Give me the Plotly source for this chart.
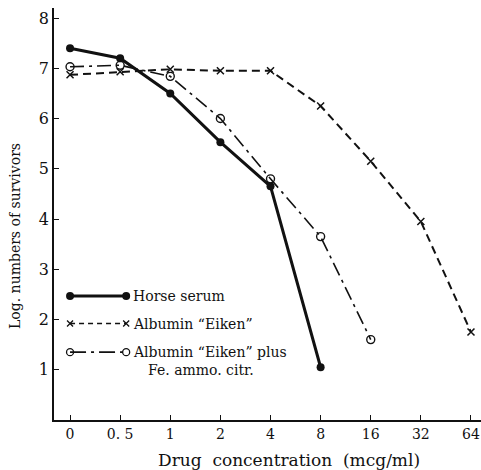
import plotly.graph_objects as go

categories = ["0", "0. 5", "1", "2", "4", "8", "16", "32", "64"]
horse_serum = [7.4, 7.2, 6.5, 5.53, 4.65, 1.05]
albumin = [6.87, 6.93, 6.98, 6.95, 6.95, 6.25, 5.15, 3.95, 1.75]
albumin_fe = [7.03, 7.06, 6.84, 6.0, 4.8, 3.65, 1.6]

names = ["Horse serum", "Albumin “Eiken”", "Albumin “Eiken” plus"]

FONT = "DejaVu Serif"
BLACK = "#111111"

idx = list(range(len(categories)))
fig = go.Figure()

fig.add_trace(go.Scatter(
    x=idx[:len(horse_serum)], y=horse_serum, mode="lines+markers",
    line=dict(color=BLACK, width=3),
    marker=dict(symbol="circle", size=8, color=BLACK),
    showlegend=False, name=names[0]))
fig.add_trace(go.Scatter(
    x=idx[:len(albumin)], y=albumin, mode="lines+markers",
    line=dict(color=BLACK, width=2, dash="8px,5px"),
    marker=dict(symbol="x-thin", size=7, color=BLACK, line=dict(color=BLACK, width=1.5)),
    showlegend=False, name=names[1], cliponaxis=False))
fig.add_trace(go.Scatter(
    x=idx[:len(albumin_fe)], y=albumin_fe, mode="lines+markers",
    line=dict(color=BLACK, width=1.6, dash="14px,5px,3px,5px"),
    marker=dict(symbol="circle-open", size=8, color=BLACK, line=dict(color=BLACK, width=1.4)),
    showlegend=False, name=names[2]))

# hand-drawn legend keys
key_x = [0, 1.12]
key_y = [2.47, 1.92, 1.35]
styles = [
    (dict(color=BLACK, width=3), dict(symbol="circle", size=8, color=BLACK)),
    (dict(color=BLACK, width=1.5, dash="5px,4px"), dict(symbol="x-thin", size=6, color=BLACK, line=dict(color=BLACK, width=1.3))),
    (dict(color=BLACK, width=1.6, dash="16px,5px,3px,5px"), dict(symbol="circle-open", size=7, color=BLACK, line=dict(color=BLACK, width=1.3))),
]
for yk, (ln, mk) in zip(key_y, styles):
    fig.add_trace(go.Scatter(x=key_x, y=[yk, yk], mode="lines+markers", line=ln, marker=mk,
                             showlegend=False, hoverinfo="skip"))

annos = []
for yk, nm in zip(key_y, names):
    annos.append(dict(x=1.22, y=yk, xref="x", yref="y", text=nm, showarrow=False,
                      xanchor="left", yanchor="middle", font=dict(family=FONT, size=14, color=BLACK)))
annos.append(dict(x=1.52, y=1.0, xref="x", yref="y", text="Fe. ammo. citr.", showarrow=False,
                  xanchor="left", yanchor="middle", font=dict(family=FONT, size=14, color=BLACK)))
annos.append(dict(x=-0.091, y=0.447, xref="paper", yref="paper", text="Log. numbers of survivors",
                  textangle=-90, showarrow=False, xanchor="center", yanchor="middle",
                  font=dict(family=FONT, size=14, color=BLACK)))
annos.append(dict(x=0.55, y=-0.097, xref="paper", yref="paper", text="Drug  concentration  (mcg/ml)",
                  showarrow=False, xanchor="center", yanchor="middle",
                  font=dict(family=FONT, size=17, color=BLACK)))

fig.update_layout(
    width=481, height=470,
    margin=dict(l=54, r=0, t=8, b=50),
    paper_bgcolor="white", plot_bgcolor="white",
    font=dict(family=FONT, size=14, color=BLACK),
    annotations=annos,
    xaxis=dict(range=[-0.32, 8.2], tickmode="array", tickvals=idx, ticktext=categories,
               showgrid=False, zeroline=False, showline=True, linecolor=BLACK, linewidth=1.5,
               ticks="inside", ticklen=5, tickcolor=BLACK, tickfont=dict(family=FONT, size=14)),
    yaxis=dict(range=[0, 8.2], tickvals=[1, 2, 3, 4, 5, 6, 7, 8],
               showgrid=False, zeroline=False, showline=True, linecolor=BLACK, linewidth=1.5,
               ticks="inside", ticklen=5, tickcolor=BLACK, tickfont=dict(family=FONT, size=16)),
)

fig.write_html("out.html", config={"displayModeBar": False},
               post_script="document.body.style.margin='0';")
